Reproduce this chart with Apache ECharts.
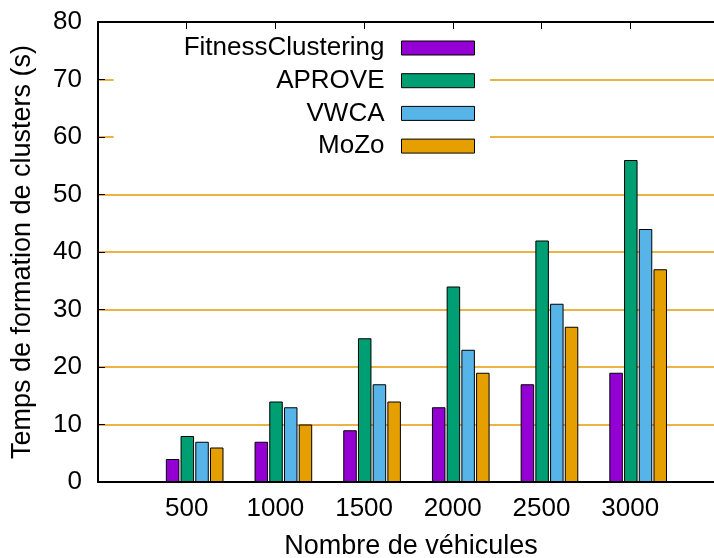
<!DOCTYPE html>
<html>
<head>
<meta charset="utf-8">
<script src="https://cdn.jsdelivr.net/npm/echarts@6/dist/echarts.min.js"></script>
<style>
  html, body { margin: 0; padding: 0; background: #ffffff; }
  #chart { width: 714px; height: 558px; }
</style>
</head>
<body>
<div id="chart"></div>
<script>
// Cluster formation time (s) by number of vehicles
const categories = ['500', '1000', '1500', '2000', '2500', '3000'];
const seriesNames = ['FitnessClustering', 'APROVE', 'VWCA', 'MoZo'];
const fitnessClustering = [4, 7, 9, 13, 17, 19];
const aprove = [8, 14, 25, 34, 42, 56];
const vwca = [7, 13, 17, 23, 31, 44];
const mozo = [6, 10, 14, 19, 27, 37];

const seriesValues = [fitnessClustering, aprove, vwca, mozo];
const seriesColors = ['#9400d3', '#009e73', '#56b4e9', '#e69f00'];

const FONT = "'Liberation Sans', Arial, Helvetica, sans-serif";
const GRID_COLOR = '#ebb244';
const X_MIN = -1;
const X_MAX = 5.945;
// each cluster sits slightly right of its tick
const CLUSTER_OFFSET = 0.09;

const chart = echarts.init(document.getElementById('chart'), null, { renderer: 'canvas' });

const xLabel = function (v) {
  const i = Math.round(v);
  if (Math.abs(v - i) > 1e-6 || i < 0 || i >= categories.length) return '';
  return categories[i];
};

const option = {
  animation: false,
  backgroundColor: '#ffffff',
  textStyle: { fontFamily: FONT },
  grid: { left: 98, right: 0, top: 22, bottom: 76, containLabel: false, outerBoundsMode: 'none' },
  legend: {
    data: seriesNames,
    orient: 'vertical',
    align: 'right',
    right: 224,
    top: 31,
    itemWidth: 73,
    itemHeight: 14,
    itemGap: 6.7,
    icon: 'rect',
    backgroundColor: '#ffffff',
    padding: [4, 15, 10, 70],
    itemStyle: { borderColor: '#000000', borderWidth: 1 },
    textStyle: { fontFamily: FONT, fontSize: 26, color: '#000000', lineHeight: 20, padding: [0, 12, 0, 0] },
    selectedMode: false
  },
  xAxis: [
    {
      type: 'value',
      position: 'bottom',
      min: X_MIN,
      max: X_MAX,
      interval: 1,
      z: 3,
      axisLine: { show: true, onZero: false, lineStyle: { color: '#000000', width: 2 } },
      axisTick: { show: false },
      splitLine: { show: false },
      axisLabel: {
        fontFamily: FONT, fontSize: 26, color: '#000000', margin: 14,
        showMinLabel: true, showMaxLabel: false, hideOverlap: false,
        formatter: xLabel
      },
      name: 'Nombre de véhicules',
      nameLocation: 'middle',
      nameGap: 51,
      nameTextStyle: { fontFamily: FONT, fontSize: 27, color: '#000000', padding: [0, 0, 0, 10] }
    },
    {
      type: 'value',
      position: 'top',
      min: X_MIN,
      max: X_MAX,
      interval: 1,
      axisLine: { show: true, onZero: false, lineStyle: { color: '#000000', width: 2 } },
      axisTick: { show: true, inside: true, length: 7, lineStyle: { color: '#000000', width: 1 } },
      axisLabel: { show: false },
      splitLine: { show: false }
    }
  ],
  yAxis: {
    type: 'value',
    position: 'left',
    min: 0,
    max: 80,
    interval: 10,
    axisLine: { show: true, onZero: false, lineStyle: { color: '#000000', width: 2 } },
    axisTick: { show: true, inside: true, length: 7, lineStyle: { color: '#000000', width: 1 } },
    axisLabel: { fontFamily: FONT, fontSize: 26, color: '#000000', margin: 16 },
    splitLine: { show: true, lineStyle: { color: GRID_COLOR, width: 2 } },
    name: 'Temps de formation de clusters (s)',
    nameLocation: 'middle',
    nameGap: 62,
    nameTextStyle: { fontFamily: FONT, fontSize: 27, color: '#000000' }
  },
  series: seriesNames.map(function (name, s) {
    return {
      name: name,
      type: 'bar',
      xAxisIndex: 0,
      yAxisIndex: 0,
      barWidth: 13.5,
      barGap: '9%',
      itemStyle: { color: seriesColors[s], borderColor: '#000000', borderWidth: 1 },
      emphasis: { disabled: true },
      data: seriesValues[s].map(function (v, i) { return [i + CLUSTER_OFFSET, v]; })
    };
  })
};

chart.setOption(option);
</script>
</body>
</html>
